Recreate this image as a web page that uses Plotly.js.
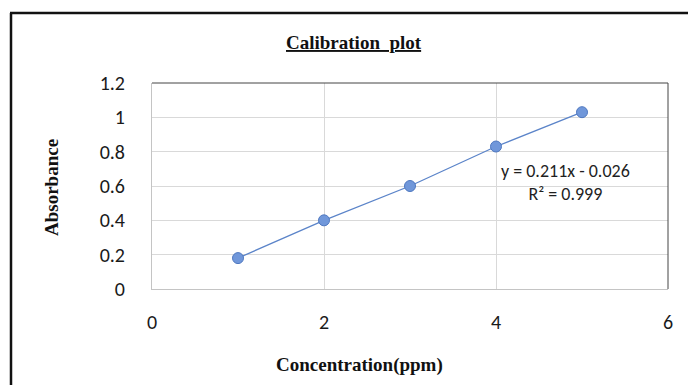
<!DOCTYPE html>
<html>
<head>
<meta charset="utf-8">
<script src="https://cdn.plot.ly/plotly-3.0.1.min.js"></script>
<style>
html,body{margin:0;padding:0;background:#fff;}
#chart{width:688px;height:385px;}
</style>
</head>
<body>
<div id="chart"></div>
<script>
const concentration = [1, 2, 3, 4, 5];
const absorbance = [0.18, 0.40, 0.60, 0.83, 1.03];
const xTicks = [0, 2, 4, 6];
const yTicks = [0, 0.2, 0.4, 0.6, 0.8, 1, 1.2];
const yTickText = ["0", "0.2", "0.4", "0.6", "0.8", "1", "1.2"];
const chartTitle = "Calibration  plot";
const xTitle = "Concentration(ppm)";
const yTitle = "Absorbance";
const equationText = "y = 0.211x - 0.026";
const r2Text = "R² = 0.999";

const W = 688, H = 385;
const m = {l: 152, r: 20, t: 83, b: 96};
const pw = W - m.l - m.r, ph = H - m.t - m.b;
const px = v => (v - m.l) / pw;
const py = v => (H - m.b - v) / ph;

const tickFont = {family: "Carlito, 'Open Sans', 'Noto Sans', sans-serif", size: 20, color: "#1a1a1a"};
const serifBold = {family: "'Liberation Serif', 'DejaVu Serif', serif", size: 19, color: "#111"};

const trace = {
  x: concentration,
  y: absorbance,
  mode: "lines+markers",
  type: "scatter",
  line: {color: "#5b84c9", width: 1.3},
  marker: {size: 11, color: "#7097da", line: {color: "#4f78c0", width: 1}},
  showlegend: false,
  hoverinfo: "x+y"
};

const layout = {
  width: W, height: H,
  margin: m,
  paper_bgcolor: "#fff",
  plot_bgcolor: "#fff",
  xaxis: {
    range: [0, 6],
    tickvals: xTicks,
    ticktext: xTicks.map(String),
    tickfont: tickFont,
    ticks: "",
    ticklabelstandoff: 15,
    showgrid: true,
    gridcolor: "#d9d9d9",
    gridwidth: 1,
    zeroline: false,
    showline: true,
    linecolor: "#c4c4c4",
    linewidth: 1,
    fixedrange: true
  },
  yaxis: {
    range: [0, 1.2],
    tickvals: yTicks,
    ticktext: yTickText,
    tickfont: tickFont,
    ticks: "",
    ticklabelstandoff: 22,
    showgrid: true,
    gridcolor: "#d9d9d9",
    gridwidth: 1,
    zeroline: false,
    showline: true,
    linecolor: "#c4c4c4",
    linewidth: 1,
    fixedrange: true
  },
  annotations: [
    {
      text: "<b><u>" + chartTitle + "</u></b>",
      x: px(354), y: py(42), xref: "paper", yref: "paper",
      xanchor: "center", yanchor: "middle", showarrow: false,
      font: serifBold
    },
    {
      text: "<b>" + xTitle + "</b>",
      x: px(359), y: py(365), xref: "paper", yref: "paper",
      xanchor: "center", yanchor: "middle", showarrow: false,
      font: serifBold
    },
    {
      text: "<b>" + yTitle + "</b>",
      x: px(51), y: py(188), xref: "paper", yref: "paper",
      xanchor: "center", yanchor: "middle", showarrow: false,
      textangle: -90,
      font: serifBold
    },
    {
      text: equationText + "<br>" + r2Text,
      x: px(565), y: py(182), xref: "paper", yref: "paper",
      xanchor: "center", yanchor: "middle",
      showarrow: false,
      align: "center",
      font: {family: "Carlito, 'Open Sans', 'Noto Sans', sans-serif", size: 18, color: "#1f1f1f"}
    }
  ],
  shapes: [
    {type: "line", xref: "paper", yref: "paper", x0: 0, x1: 1, y0: 1, y1: 1, line: {color: "#444", width: 1}},
    {type: "line", xref: "paper", yref: "paper", x0: 1, x1: 1, y0: 0, y1: 1, line: {color: "#444", width: 1}},
    {type: "line", xref: "paper", yref: "paper", x0: px(11), x1: px(11), y0: py(13), y1: py(H + 5), line: {color: "#111", width: 2.5}},
    {type: "line", xref: "paper", yref: "paper", x0: px(10), x1: px(W + 5), y0: py(13), y1: py(13), line: {color: "#111", width: 2.5}}
  ]
};

Plotly.newPlot("chart", [trace], layout, {displayModeBar: false, staticPlot: true});
</script>
</body>
</html>
